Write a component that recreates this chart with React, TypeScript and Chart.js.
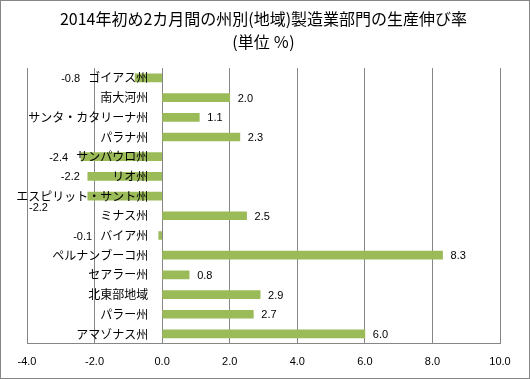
import React, { useEffect, useRef } from "react";
import { Chart, registerables } from "chart.js";

Chart.register(...registerables);

const categories: string[] = [
  "ゴイアス州",
  "南大河州",
  "サンタ・カタリーナ州",
  "パラナ州",
  "サンパウロ州",
  "リオ州",
  "エスピリット・サント州",
  "ミナス州",
  "バイア州",
  "ペルナンブーコ州",
  "セアラー州",
  "北東部地域",
  "パラー州",
  "アマゾナス州",
];

const values: number[] = [-0.8, 2.0, 1.1, 2.3, -2.4, -2.2, -2.2, 2.5, -0.1, 8.3, 0.8, 2.9, 2.7, 6.0];

const xMin = -4;
const xMax = 10;
const xStep = 2;

const titleLines: string[] = [
  "2014年初め2カ月間の州別(地域)製造業部門の生産伸び率",
  "(単位 ％)",
];

const CAT_FONT_SIZE = 12;
const CAT_FONT_FAMILY = '"Noto Sans CJK JP", sans-serif';
const NUM_FONT = '11px "Liberation Sans", sans-serif';
const Y_LABEL_GAP_PX = 14;
const GRID = "#868686";
const BAR = "#9BBB59";

const valueLabels = {
  id: "valueLabels",
  afterDraw(chart: any) {
    const ctx = chart.ctx as CanvasRenderingContext2D;
    const meta = chart.getDatasetMeta(0);
    const xScale = chart.scales.x;
    const zero = xScale.getPixelForValue(0);
    ctx.save();
    ctx.textBaseline = "middle";
    ctx.fillStyle = "#000";
    meta.data.forEach((bar: any, i: number) => {
      const v = values[i];
      const text = v.toFixed(1);
      ctx.font = NUM_FONT;
      const w = ctx.measureText(text).width;
      if (v >= 0) {
        ctx.textAlign = "left";
        ctx.fillText(text, bar.x + 8, bar.y + 1);
      } else {
        ctx.font = `${CAT_FONT_SIZE}px ${CAT_FONT_FAMILY}`;
        const lw = ctx.measureText(categories[i]).width;
        ctx.font = NUM_FONT;
        const labelLeft = zero - Y_LABEL_GAP_PX - lw;
        let right = Math.min(bar.x, labelLeft) - 8;
        let y = bar.y + 1;
        if (right - w < chart.chartArea.left) {
          right = chart.chartArea.left + 2 + w;
          y += 11;
        }
        ctx.textAlign = "right";
        ctx.fillText(text, right, y);
      }
    });
    ctx.restore();
  },
};

export default function App() {
  const ref = useRef<HTMLCanvasElement | null>(null);

  useEffect(() => {
    document.body.style.margin = "0";
    if (!ref.current) return;
    // place category labels just left of the zero line
    const pxPerUnit = (528 - 26 - 29) / (xMax - xMin);
    const chart = new Chart(ref.current, {
      type: "bar",
      data: {
        labels: categories,
        datasets: [
          {
            data: values,
            backgroundColor: BAR,
            borderWidth: 0,
            barThickness: 8,
          },
        ],
      },
      options: {
        indexAxis: "y",
        animation: false,
        responsive: false,
        devicePixelRatio: 1,
        layout: { padding: { left: 26, right: 29, top: 0, bottom: -3 } },
        plugins: {
          legend: { display: false },
          tooltip: { enabled: false },
          title: {
            display: true,
            text: titleLines,
            color: "#000",
            font: { family: CAT_FONT_FAMILY, size: 16, weight: "normal", lineHeight: 1.44 },
            padding: { top: 6, bottom: 15 },
          },
        },
        scales: {
          x: {
            type: "linear",
            min: xMin,
            max: xMax,
            ticks: {
              stepSize: xStep,
              color: "#000",
              font: { family: '"Liberation Sans", sans-serif', size: 11 },
              padding: 12,
              callback: (v: any) => Number(v).toFixed(1),
            },
            grid: { color: GRID, drawTicks: false, lineWidth: 1 },
            border: { display: true, color: GRID },
          },
          y: {
            type: "category",
            position: { x: -Y_LABEL_GAP_PX / pxPerUnit } as any,
            grid: { display: false, drawTicks: false },
            border: { display: false },
            ticks: {
              z: 1,
              color: "#000",
              font: { family: CAT_FONT_FAMILY, size: CAT_FONT_SIZE },
              padding: 0,
            },
          },
        },
      },
      plugins: [valueLabels],
    });
    return () => chart.destroy();
  }, []);

  return (
    <div
      style={{
        width: 530,
        height: 379,
        border: "1px solid #868686",
        boxSizing: "border-box",
        background: "#fff",
      }}
    >
      <canvas ref={ref} width={528} height={377} style={{ display: "block" }} />
    </div>
  );
}
